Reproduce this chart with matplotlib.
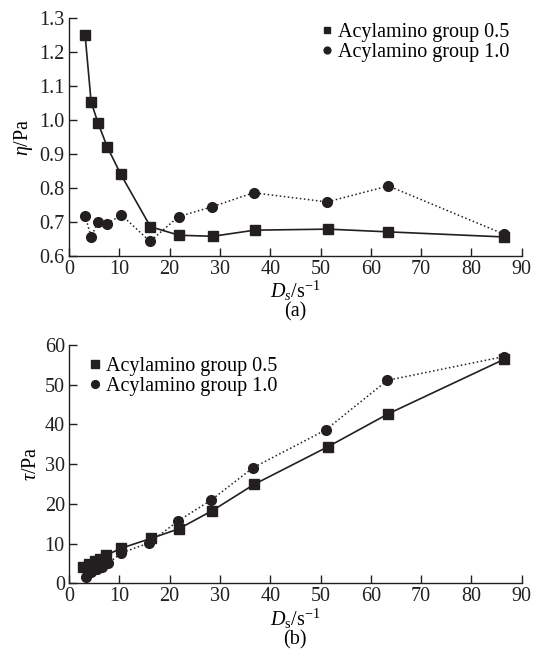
import matplotlib
matplotlib.use("Agg")
import matplotlib.pyplot as plt

plt.rcParams['font.family'] = ['Liberation Serif', 'DejaVu Serif']
plt.rcParams['mathtext.fontset'] = 'custom'
plt.rcParams['mathtext.rm'] = 'Liberation Serif'
plt.rcParams['mathtext.it'] = 'Liberation Serif:italic'

# Panel (a): viscosity
a_x_sq = [3.2, 4.4, 5.8, 7.6, 10.3, 16.2, 21.9, 28.6, 36.9, 51.5, 63.5, 86.5]
a_y_sq = [1.25, 1.053, 0.99, 0.921, 0.84, 0.686, 0.661, 0.658, 0.676, 0.679, 0.671, 0.656]
a_x_ci = [3.2, 4.4, 5.8, 7.6, 10.4, 16.1, 21.8, 28.5, 36.7, 51.3, 63.5, 86.5]
a_y_ci = [0.719, 0.656, 0.701, 0.695, 0.721, 0.643, 0.716, 0.745, 0.786, 0.759, 0.806, 0.664]

# Panel (b): shear stress
b_x_sq = [2.8, 4.0, 5.2, 6.2, 7.3, 10.3, 16.3, 21.8, 28.5, 36.8, 51.5, 63.5, 86.5]
b_y_sq = [4.0, 4.8, 5.5, 6.1, 7.0, 8.8, 11.3, 13.7, 18.3, 24.9, 34.4, 42.7, 56.4]
b_x_ci = [3.3, 4.4, 5.6, 6.6, 7.8, 10.3, 16.0, 21.7, 28.3, 36.6, 51.0, 63.3, 86.5]
b_y_ci = [1.6, 2.8, 3.5, 4.2, 5.0, 7.6, 10.2, 15.7, 21.0, 29.1, 38.6, 51.1, 57.1]

labels = ['Acylamino group 0.5', 'Acylamino group 1.0']
xticks = list(range(0, 91, 10))
a_yticks = [0.6, 0.7, 0.8, 0.9, 1.0, 1.1, 1.2, 1.3]
b_yticks = [0, 10, 20, 30, 40, 50, 60]

W, H = 533, 652
fig = plt.figure(figsize=(W / 100, H / 100), dpi=100)

def box(l, r, t, b):
    return [l / W, 1 - b / H, (r - l) / W, (b - t) / H]

ax1 = fig.add_axes(box(69, 521.7, 18, 256))
ax2 = fig.add_axes(box(69, 521.7, 345, 583.3))

fs = 14.5
tfs = 14.5
col = '#231f20'
for ax in (ax1, ax2):
    for s in ('top', 'right'):
        ax.spines[s].set_visible(False)
    for s in ('left', 'bottom'):
        ax.spines[s].set_linewidth(1.0)
        ax.spines[s].set_color(col)
    ax.tick_params(direction='in', length=6, width=1.0, labelsize=tfs, colors=col, pad=3)
    ax.set_xlim(0, 90)
    ax.set_xticks(xticks)

# Panel (a)
ax1.plot(a_x_sq, a_y_sq, '-', color=col, lw=1.2, marker='s', ms=6.5, label=labels[0], clip_on=False)
ax1.plot(a_x_ci, a_y_ci, ':', color=col, lw=1.1, marker='o', ms=7, label=labels[1], clip_on=False)
ax1.set_ylim(0.6, 1.3)
ax1.set_yticks(a_yticks)
ax1.set_yticklabels([f'{v:.1f}' for v in a_yticks])
ax1.set_ylabel(r'$\eta$/Pa', fontsize=fs, labelpad=3)
ax1.set_xlabel(r'$D_s$/s$^{-1}$' + '\n(a)', fontsize=fs, labelpad=0, linespacing=0.9)
lg1 = ax1.legend(loc='upper right', bbox_to_anchor=(1.0, 1.03), frameon=False, fontsize=fs,
                 handlelength=0.5, handletextpad=0.3, borderaxespad=0.2, labelspacing=0.05, markerscale=0.7)
for h in lg1.legend_handles:
    h.set_linestyle('None')

# Panel (b)
ax2.plot(b_x_sq, b_y_sq, '-', color=col, lw=1.2, marker='s', ms=6.5, label=labels[0], clip_on=False)
ax2.plot(b_x_ci, b_y_ci, ':', color=col, lw=1.1, marker='o', ms=7, label=labels[1], clip_on=False)
ax2.set_ylim(0, 60)
ax2.set_yticks(b_yticks)
ax2.set_ylabel(r'$\tau$/Pa', fontsize=fs, labelpad=3)
ax2.set_xlabel(r'$D_{\mathrm{s}}$/s$^{-1}$' + '\n(b)', fontsize=fs, labelpad=0, linespacing=0.95)
lg2 = ax2.legend(loc='upper left', bbox_to_anchor=(0.02, 1.0), frameon=False, fontsize=fs,
                 handlelength=0.5, handletextpad=0.3, borderaxespad=0.2, labelspacing=0.05, markerscale=0.8)
for h in lg2.legend_handles:
    h.set_linestyle('None')

fig.savefig('out.png', dpi=100, facecolor='white')
